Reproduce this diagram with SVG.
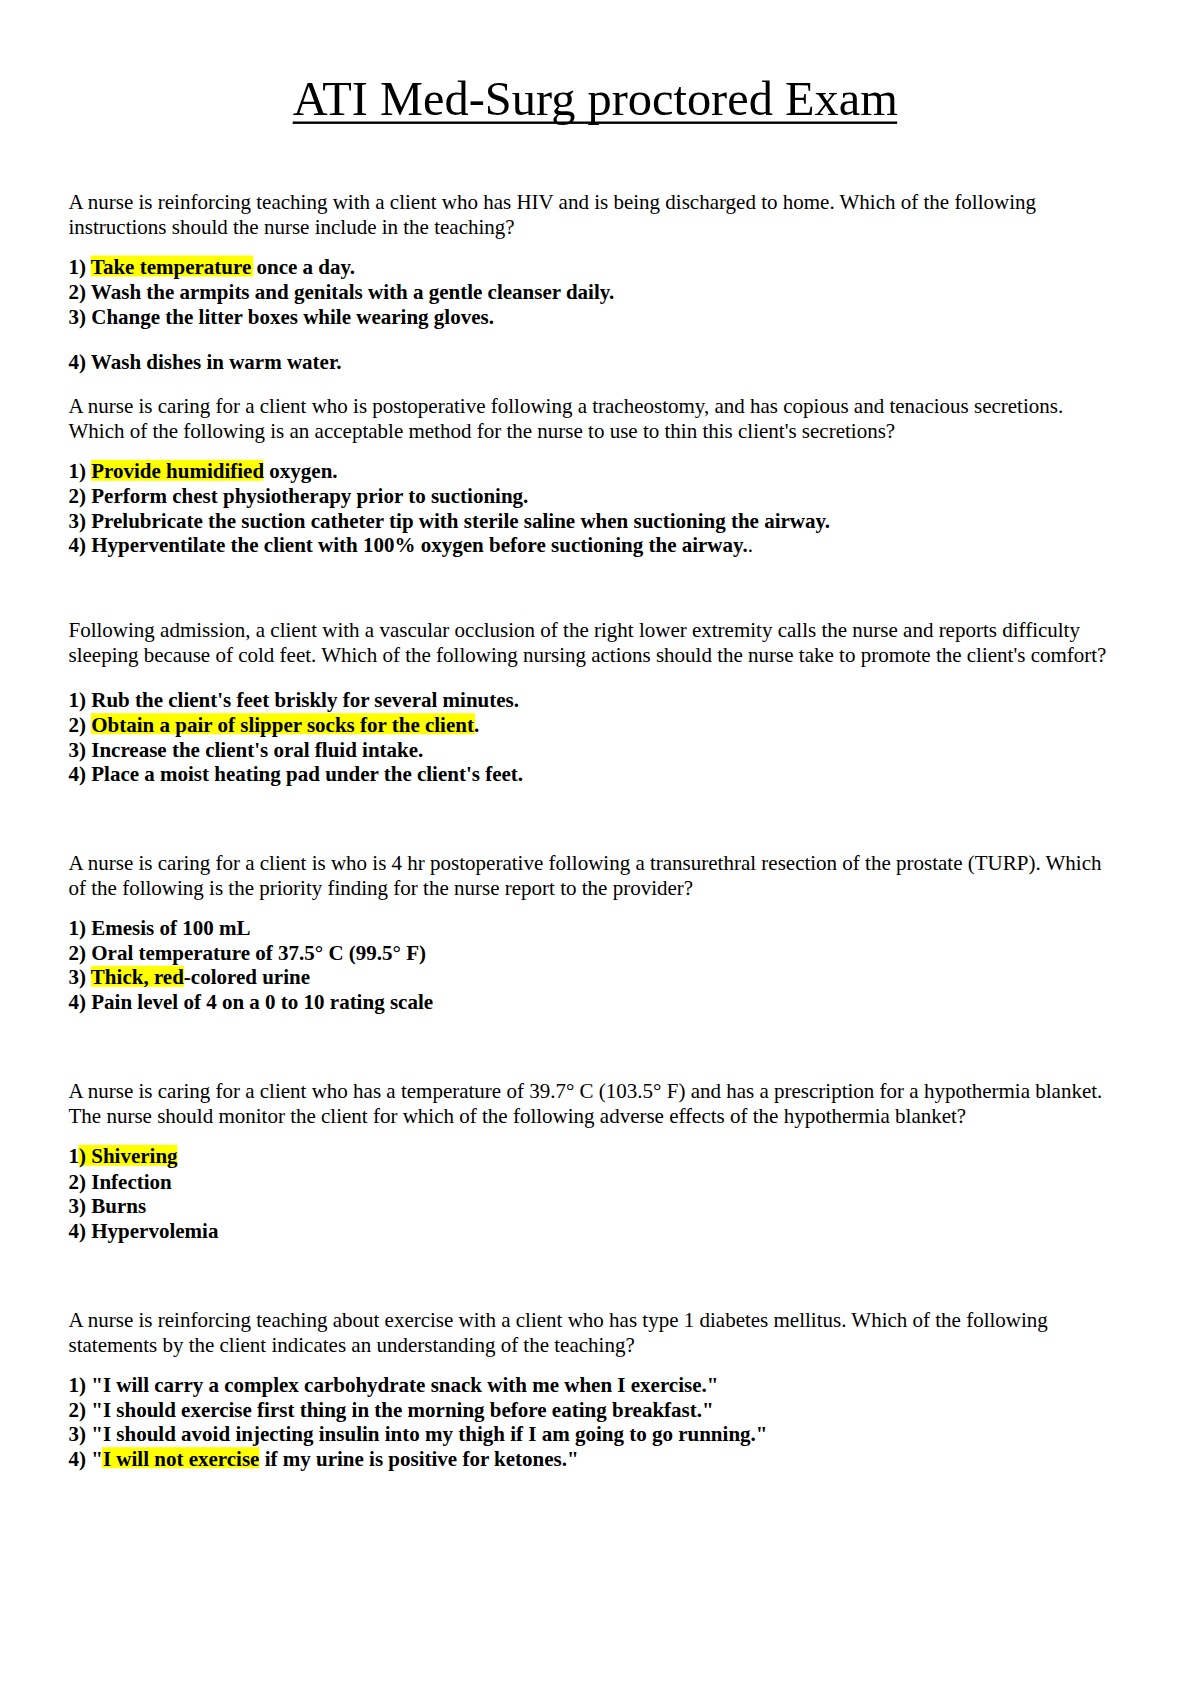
<svg xmlns="http://www.w3.org/2000/svg" width="1191" height="1684" viewBox="0 0 1191 1684">
<style>
text{font-family:"Liberation Serif","Times New Roman",serif;fill:#000}
.t{font-size:48.4px}
.p{font-size:21px}
.b{font-size:21px;font-weight:bold}
.r{font-weight:normal}
.hl{fill:#ffff00}
</style>
<rect width="1191" height="1684" fill="#fff"/>
<g id="title">
<text class="t" x="292.7" y="115">ATI Med-Surg proctored Exam</text>
<rect x="292.7" y="121.5" width="604.5" height="2.4" fill="#000"/>
</g>
<g id="highlights">
<rect class="hl" x="90.7" y="255.5" width="162.6" height="21"/>
<rect class="hl" x="91" y="459.8" width="172.3" height="21"/>
<rect class="hl" x="91" y="713.2" width="384" height="21"/>
<rect class="hl" x="91" y="965.8" width="93" height="21"/>
<rect class="hl" x="78.3" y="1144.8" width="99" height="21"/>
<rect class="hl" x="101.7" y="1447.2" width="157.6" height="21"/>
</g>
<g id="q1">
<text class="p" x="68.5" y="208.5">A nurse is reinforcing teaching with a client who has HIV and is being discharged to home. Which of the following</text>
<text class="p" x="68.5" y="233.5">instructions should the nurse include in the teaching?</text>
<text class="b" x="68.5" y="274.3">1) Take temperature once a day.</text>
<text class="b" x="68.5" y="299">2) Wash the armpits and genitals with a gentle cleanser daily.</text>
<text class="b" x="68.5" y="323.5">3) Change the litter boxes while wearing gloves.</text>
<text class="b" x="68.5" y="369">4) Wash dishes in warm water.</text>
</g>
<g id="q2">
<text class="p" x="68.5" y="413">A nurse is caring for a client who is postoperative following a tracheostomy, and has copious and tenacious secretions.</text>
<text class="p" x="68.5" y="438">Which of the following is an acceptable method for the nurse to use to thin this client's secretions?</text>
<text class="b" x="68.5" y="478.3">1) Provide humidified oxygen.</text>
<text class="b" x="68.5" y="503">2) Perform chest physiotherapy prior to suctioning.</text>
<text class="b" x="68.5" y="527.7">3) Prelubricate the suction catheter tip with sterile saline when suctioning the airway.</text>
<text class="b" x="68.5" y="552.3">4) Hyperventilate the client with 100% oxygen before suctioning the airway.<tspan class="r">.</tspan></text>
</g>
<g id="q3">
<text class="p" x="68.5" y="636.5">Following admission, a client with a vascular occlusion of the right lower extremity calls the nurse and reports difficulty</text>
<text class="p" x="68.5" y="661.5">sleeping because of cold feet. Which of the following nursing actions should the nurse take to promote the client's comfort?</text>
<text class="b" x="68.5" y="707">1) Rub the client's feet briskly for several minutes.</text>
<text class="b" x="68.5" y="731.7">2) Obtain a pair of slipper socks for the client.</text>
<text class="b" x="68.5" y="756.5">3) Increase the client's oral fluid intake.</text>
<text class="b" x="68.5" y="781">4) Place a moist heating pad under the client's feet.</text>
</g>
<g id="q4">
<text class="p" x="68.5" y="870">A nurse is caring for a client is who is 4 hr postoperative following a transurethral resection of the prostate (TURP). Which</text>
<text class="p" x="68.5" y="895">of the following is the priority finding for the nurse report to the provider?</text>
<text class="b" x="68.5" y="935">1) Emesis of 100 mL</text>
<text class="b" x="68.5" y="960">2) Oral temperature of 37.5° C (99.5° F)</text>
<text class="b" x="68.5" y="984.3">3) Thick, red-colored urine</text>
<text class="b" x="68.5" y="1009">4) Pain level of 4 on a 0 to 10 rating scale</text>
</g>
<g id="q5">
<text class="p" x="68.5" y="1098">A nurse is caring for a client who has a temperature of 39.7° C (103.5° F) and has a prescription for a hypothermia blanket.</text>
<text class="p" x="68.5" y="1123">The nurse should monitor the client for which of the following adverse effects of the hypothermia blanket?</text>
<text class="b" x="68.5" y="1163.3">1) Shivering</text>
<text class="b" x="68.5" y="1188.5">2) Infection</text>
<text class="b" x="68.5" y="1213.3">3) Burns</text>
<text class="b" x="68.5" y="1238">4) Hypervolemia</text>
</g>
<g id="q6">
<text class="p" x="68.5" y="1326.5">A nurse is reinforcing teaching about exercise with a client who has type 1 diabetes mellitus. Which of the following</text>
<text class="p" x="68.5" y="1351.5">statements by the client indicates an understanding of the teaching?</text>
<text class="b" x="68.5" y="1391.7">1) "I will carry a complex carbohydrate snack with me when I exercise."</text>
<text class="b" x="68.5" y="1416.5">2) "I should exercise first thing in the morning before eating breakfast."</text>
<text class="b" x="68.5" y="1441">3) "I should avoid injecting insulin into my thigh if I am going to go running."</text>
<text class="b" x="68.5" y="1465.7">4) "I will not exercise if my urine is positive for ketones."</text>
</g>
</svg>
